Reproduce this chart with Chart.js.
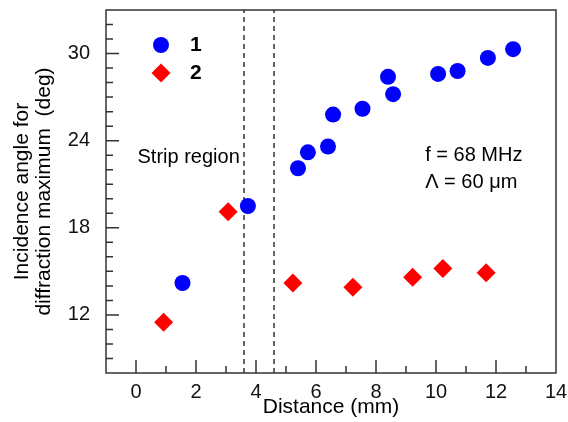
<!DOCTYPE html>
<html>
<head>
<meta charset="utf-8">
<script src="https://cdn.jsdelivr.net/npm/chart.js@4/dist/chart.umd.min.js"></script>
<style>
html, body { margin: 0; padding: 0; background: #fff; }
#chart { display: block; }
</style>
</head>
<body>
<canvas id="chart" width="568" height="422"></canvas>
<script>
// data
const distance1 = [1.55, 3.73, 5.40, 5.73, 6.40, 6.57, 7.55, 8.40, 8.57, 10.07, 10.72, 11.73, 12.57];
const angle1    = [14.2, 19.5, 22.1, 23.2, 23.6, 25.8, 26.2, 28.4, 27.2, 28.6, 28.8, 29.7, 30.3];
const distance2 = [0.92, 3.07, 5.23, 7.23, 9.22, 10.23, 11.67];
const angle2    = [11.5, 19.1, 14.2, 13.9, 14.6, 15.2, 14.9];
const stripEdges = [3.6, 4.6];
const xTicks = [0, 2, 4, 6, 8, 10, 12, 14];
const yTicks = [12, 18, 24, 30];
const seriesNames = ['1', '2'];

const FONT = 'Liberation Sans, Arial, sans-serif';
const BLUE = 'rgb(0,0,255)';
const RED = 'rgb(255,0,0)';
const INK = '#333';

const pts = (xs, ys) => xs.map((x, i) => ({ x, y: ys[i] }));

const datasets = [
    { label: seriesNames[0], data: pts(distance1, angle1), pointStyle: 'circle', pointRadius: 8,
      backgroundColor: BLUE, borderColor: BLUE, borderWidth: 0, order: 0 },
    { label: seriesNames[1], data: pts(distance2, angle2), pointStyle: 'rectRot', pointRadius: 9.5,
      backgroundColor: RED, borderColor: RED, borderWidth: 0, order: 1 }
];
stripEdges.forEach(e => datasets.push({
    type: 'line', data: [{ x: e, y: 8 }, { x: e, y: 33 }], borderColor: INK, borderWidth: 1.5,
    borderDash: [5, 4], pointRadius: 0, fill: false, order: 5
}));

// no extra room for edge labels, the plot box is fixed
function noPad(s) {
    s.paddingTop = 0; s.paddingBottom = 0; s.paddingLeft = 0; s.paddingRight = 0;
}

// frame, inward ticks, notes and legend
const decor = {
    id: 'decor',
    afterDraw(chart) {
        const { ctx, chartArea: a } = chart;
        const xs = chart.scales.x, ys = chart.scales.y;
        ctx.save();
        ctx.strokeStyle = INK;
        ctx.lineWidth = 1.5;
        ctx.strokeRect(a.left, a.top, a.right - a.left, a.bottom - a.top);
        ctx.beginPath();
        for (let v = Math.ceil(xs.min) + 1; v < xs.max; v++) {
            const px = xs.getPixelForValue(v);
            const len = xTicks.includes(v) ? 13 : 7;
            ctx.moveTo(px, a.bottom);
            ctx.lineTo(px, a.bottom - len);
        }
        for (let v = Math.ceil(ys.min) + 1; v < ys.max; v++) {
            const py = ys.getPixelForValue(v);
            const len = yTicks.includes(v) ? 13 : 7;
            ctx.moveTo(a.left, py);
            ctx.lineTo(a.left + len, py);
        }
        ctx.stroke();

        ctx.fillStyle = '#000';
        ctx.textBaseline = 'middle';
        ctx.textAlign = 'left';
        ctx.font = '20px ' + FONT;
        ctx.fillText('Strip region', xs.getPixelForValue(0.05), ys.getPixelForValue(22.85));
        ctx.fillText('f = 68 MHz', xs.getPixelForValue(9.64), ys.getPixelForValue(22.98));
        ctx.fillText('\u039B = 60 \u03BCm', xs.getPixelForValue(9.64), ys.getPixelForValue(21.15));

        // legend
        const lx = a.left + 55;
        [[BLUE, 'circle', 8], [RED, 'rectRot', 9.5]].forEach((s, i) => {
            const ly = a.top + 35 + i * 28;
            ctx.fillStyle = s[0];
            Chart.helpers.drawPoint(ctx, { pointStyle: s[1], radius: s[2], rotation: 0, borderWidth: 0 }, lx, ly);
            ctx.fillStyle = '#000';
            ctx.font = 'bold 21px ' + FONT;
            ctx.fillText(seriesNames[i], lx + 29, ly);
        });
        ctx.restore();
    }
};

new Chart(document.getElementById('chart'), {
    type: 'scatter',
    data: { datasets },
    options: {
        responsive: false,
        animation: false,
        layout: { padding: { top: 10, right: 12, left: 0, bottom: 0 } },
        plugins: { legend: { display: false }, tooltip: { enabled: false } },
        scales: {
            x: {
                type: 'linear', min: -1, max: 14,
                afterBuildTicks: s => { s.ticks = xTicks.map(v => ({ value: v })); },
                afterFit: s => { s.height = 49; noPad(s); },
                grid: { display: false, drawTicks: false },
                border: { display: false },
                ticks: { color: '#111', padding: 7, maxRotation: 0, font: { family: FONT, size: 20 } },
                title: { display: true, text: 'Distance (mm)', color: '#000',
                         font: { family: FONT, size: 21, lineHeight: 1 }, padding: { top: 0, bottom: 4 } }
            },
            y: {
                type: 'linear', min: 8, max: 33,
                afterBuildTicks: s => { s.ticks = yTicks.map(v => ({ value: v })); },
                afterFit: s => { s.width = 106; noPad(s); },
                grid: { display: false, drawTicks: false },
                border: { display: false },
                ticks: { color: '#111', padding: 16, font: { family: FONT, size: 20 } },
                title: { display: true, text: ['Incidence angle for', 'diffraction maximum  (deg)'], color: '#000',
                         font: { family: FONT, size: 21, lineHeight: 1.05 }, padding: { top: 11, bottom: 0 } }
            }
        }
    },
    plugins: [decor]
});
</script>
</body>
</html>
